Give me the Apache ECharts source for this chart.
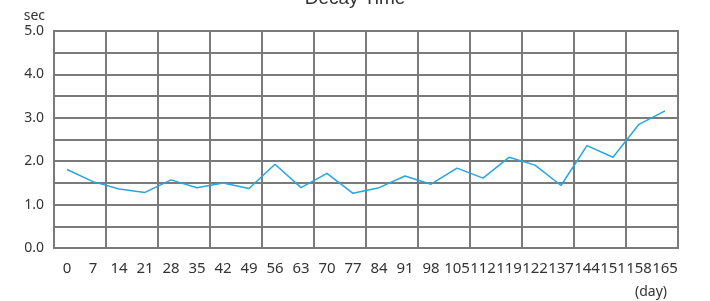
<!DOCTYPE html>
<html>
<head>
<meta charset="utf-8">
<script src="https://cdn.jsdelivr.net/npm/echarts@6/dist/echarts.min.js"></script>
<style>html,body{margin:0;padding:0;background:#fff}#c{width:710px;height:301px}</style>
</head>
<body>
<div id="c"></div>
<script>
var categories = ['0','7','14','21','28','35','42','49','56','63','70','77','84','91','98','105','112','119','122','137','144','151','158','165'];
var decayTime = [1.81,1.53,1.36,1.28,1.57,1.39,1.50,1.37,1.93,1.39,1.72,1.26,1.39,1.66,1.47,1.84,1.61,2.09,1.91,1.44,2.36,2.09,2.85,3.16];
var yTicks = { min: 0, max: 5, interval: 0.5 };

var chart = echarts.init(document.getElementById('c'));
var gridColor = '#7a7a7a';
chart.setOption({
  animation: false,
  title: {
    text: 'Decay Time', left: 'center', top: -16,
    textStyle: { fontFamily: 'Liberation Sans', fontSize: 19, fontWeight: 'normal', color: '#333' }
  },
  grid: { left: 54, right: 32, top: 31, bottom: 53, show: true, borderColor: gridColor, borderWidth: 2, backgroundColor: 'transparent' },
  xAxis: {
    type: 'category', data: categories, boundaryGap: true,
    axisLine: { show: true, lineStyle: { color: gridColor, width: 2 } },
    axisTick: { show: false },
    axisLabel: { interval: 0, margin: 13, color: '#333', fontFamily: 'Noto Sans', fontSize: 15 },
    splitLine: { show: true, interval: function (index) { return index % 2 === 0; }, lineStyle: { color: gridColor, width: 2 } }
  },
  yAxis: {
    type: 'value', min: yTicks.min, max: yTicks.max, interval: yTicks.interval,
    name: 'sec', nameLocation: 'end', nameGap: 8,
    nameTextStyle: { align: 'right', verticalAlign: 'bottom', padding: [0, 9, 0, 0], color: '#333', fontFamily: 'Noto Sans', fontSize: 14 },
    axisLine: { show: true, lineStyle: { color: gridColor, width: 2 } },
    axisTick: { show: false },
    axisLabel: { margin: 10, color: '#333', fontFamily: 'Noto Sans', fontSize: 14,
      formatter: function (v) { return (Math.abs(v % 1) < 1e-9) ? v.toFixed(1) : ''; } },
    splitLine: { show: true, lineStyle: { color: gridColor, width: 2 } }
  },
  graphic: [{
    type: 'text', left: 635, top: 285,
    style: { text: '(day)', fill: '#333', font: '14px "Noto Sans"' }
  }],
  series: [{
    type: 'line', data: decayTime, showSymbol: false, symbol: 'none',
    lineStyle: { color: '#27a6df', width: 1.5 }
  }]
});
</script>
</body>
</html>
